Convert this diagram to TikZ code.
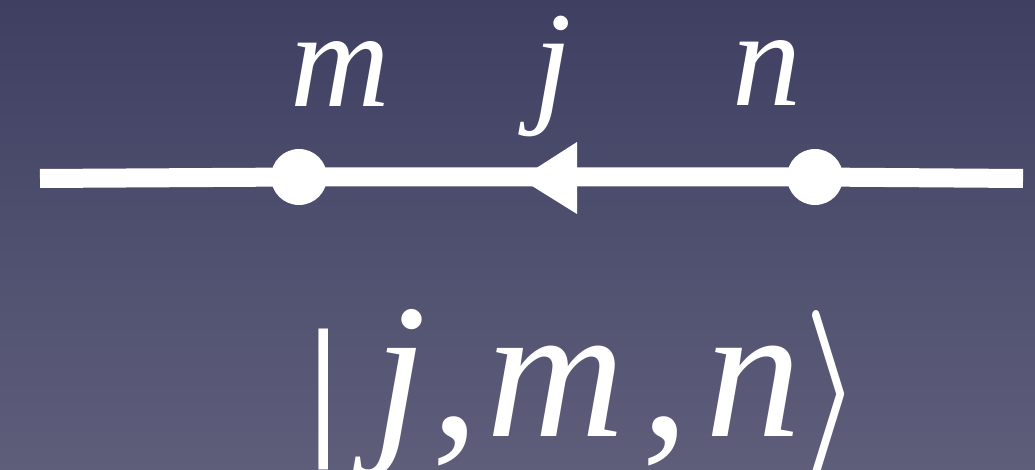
\documentclass[tikz,border=0pt]{standalone}
\usepackage{fontspec}
\usepackage{graphicx}
\setmainfont{Liberation Serif}[ItalicFont={Liberation Serif Italic}, BoldFont={Liberation Serif Bold}]
\definecolor{bgtop}{HTML}{3F3F62}
\definecolor{bgbot}{HTML}{5E5E7B}
\tikzset{
  wire/.style={white, line width=19pt},
  vertex/.style={circle, fill=white, inner sep=0pt, minimum size=56pt},
  lab/.style={white, anchor=base, inner sep=0pt, font=\fontsize{138}{140}\selectfont\itshape},
  ket/.style={white, anchor=base west, inner sep=0pt, font=\fontsize{192}{200}\selectfont},
}
\begin{document}
\begin{tikzpicture}[x=1pt,y=-1pt]
\shade[top color=bgtop, bottom color=bgbot] (0,0) rectangle (1035,470);
\useasboundingbox (0,0) rectangle (1035,470);
\coordinate (L) at (40,178.5);
\coordinate (R) at (1023,178.5);
\node[vertex] (vm) at (299,177) {};
\node[vertex] (vn) at (815,177) {};
\coordinate (tip) at (520,178.5);
\draw[wire] (L) -- (vm.center) -- (vn.center) -- (R);
\fill[white] (tip) -- (577,142) -- (577,214) -- cycle;
\node[lab] (lm) at (340,107) {m};
\node[lab] (lj) at (553,108) {j};
\node[lab] (ln) at (767,106) {n};
\node[ket] (k) at (304,436) {\scalebox{1}[0.807]{|}\hspace{30.6pt}\textit{j}\hspace{5.4pt},\hspace{7pt}\textit{m}\hspace{15.6pt},\hspace{16pt}\textit{n}\hspace{3pt}\resizebox*{56pt}{168pt}{\boldmath$\rangle$}};
\end{tikzpicture}
\end{document}
